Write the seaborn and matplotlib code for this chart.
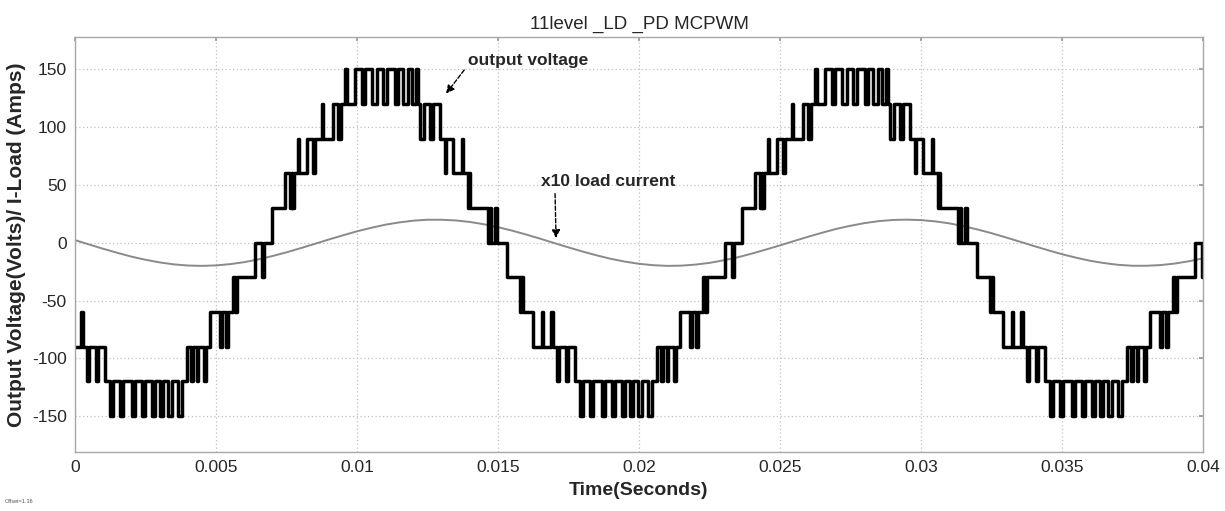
import numpy as np
import pandas as pd
import matplotlib
matplotlib.use("Agg")
import matplotlib.pyplot as plt
import seaborn as sns

# ---- data -------------------------------------------------------------
# One 60 Hz cycle of the 11-level inverter output: switching instants (ms)
# and the voltage level (V) held after each instant.
cycle_ms = 16.667
switch_ms = [
    0.00, 0.21, 0.27, 0.44, 0.49, 0.74, 0.80, 1.06,
    1.24, 1.36, 1.60, 1.71, 2.01, 2.13, 2.37, 2.48, 2.72, 2.84,
    3.01, 3.13, 3.31, 3.43, 3.66, 3.78,
    3.96, 4.11, 4.17, 4.31, 4.36, 4.59, 4.65,
    4.79, 5.14, 5.20, 5.37, 5.43,
    5.60, 5.66, 5.73,
    6.38, 6.65, 6.70,
    6.98,
    7.45, 7.62, 7.68, 7.71, 7.77,
    7.91, 7.96, 8.22, 8.45, 8.51,
    8.75, 8.80, 9.16, 9.34, 9.43,
    9.57, 9.63, 9.93, 10.17, 10.28, 10.52, 10.70, 10.93, 11.05,
    11.35, 11.46, 11.64, 11.82, 11.94, 12.09, 12.15,
    12.23, 12.38, 12.59, 12.70, 12.94,
    13.12, 13.17, 13.41, 13.71, 13.77,
    13.94, 13.99, 14.02,
    14.66, 14.72, 14.75, 14.89, 14.95,
    15.31, 15.78, 15.83, 15.89,
    16.25, 16.55, 16.60,
]
switch_level = [
    -90, -60, -90, -120, -90, -120, -90, -120,
    -150, -120, -150, -120, -150, -120, -150, -120, -150, -120,
    -150, -120, -150, -120, -150, -120,
    -90, -120, -90, -120, -90, -120, -90,
    -60, -90, -60, -90, -60,
    -30, -60, -30,
    0, -30, 0,
    30,
    60, 30, 60, 30, 60,
    90, 60, 90, 60, 90,
    120, 90, 120, 90, 120,
    150, 120, 150, 120, 150, 120, 150, 120, 150,
    120, 150, 120, 150, 120, 150, 120,
    90, 120, 90, 120, 90,
    60, 90, 60, 90, 60,
    30, 60, 30,
    0, 30, 0, 30, 0,
    -30, -60, -30, -60,
    -90, -60, -90,
]
n_cycles = 3
t_end_ms = 40.0

# Load current (scaled x10), sampled every 0.5 ms
current_t_ms = np.arange(0.0, 40.01, 0.5)
current_x10 = [
    2.3, -1.5, -5.2, -8.7, -12.0, -14.7, -17.0, -18.7, -19.7, -20.0,
    -19.6, -18.5, -16.8, -14.4, -11.5, -8.3, -4.7, -1.0, 2.8, 6.4,
    9.9, 12.9, 15.6, 17.6, 19.1, 19.9, 19.9, 19.3, 18.0, 16.0,
    13.5, 10.5, 7.1, 3.5, -0.3, -4.0, -7.6, -10.9, -13.9, -16.3,
    -18.2, -19.4, -20.0, -19.8, -18.9, -17.4, -15.2, -12.6, -9.4, -5.9,
    -2.3, 1.5, 5.2, 8.7, 12.0, 14.7, 17.0, 18.7, 19.7, 20.0,
    19.6, 18.5, 16.8, 14.4, 11.5, 8.3, 4.7, 1.0, -2.8, -6.4,
    -9.9, -12.9, -15.6, -17.6, -19.1, -19.9, -19.9, -19.3, -18.0, -16.0,
    -13.5,
]

x_ticks = [0, 0.005, 0.01, 0.015, 0.02, 0.025, 0.03, 0.035, 0.04]
x_tick_labels = ["0", "0.005", "0.01", "0.015", "0.02", "0.025", "0.03", "0.035", "0.04"]
y_ticks = [-150, -100, -50, 0, 50, 100, 150]
y_tick_labels = ["-150", "-100", "-50", "0", "50", "100", "150"]

# ---- build the stepped voltage trace over the whole window -----------
t_steps, v_steps = [], []
for k in range(n_cycles):
    for t, v in zip(switch_ms, switch_level):
        tk = t + k * cycle_ms
        if tk < t_end_ms:
            t_steps.append(tk)
            v_steps.append(v)
t_steps.append(t_end_ms)
v_steps.append(v_steps[-1])

voltage = pd.DataFrame({"time": np.array(t_steps) / 1000.0, "volts": v_steps})
current = pd.DataFrame({"time": current_t_ms / 1000.0, "amps": current_x10})

# ---- figure -----------------------------------------------------------
sns.set_theme(style="white")
plt.rcParams["font.family"] = ["Liberation Sans", "DejaVu Sans"]

fig = plt.figure(figsize=(12.25, 5.11), dpi=100)
ax = fig.add_axes([0.0612, 0.1155, 0.9208, 0.8121])

sns.lineplot(data=current, x="time", y="amps", color="#8a8a8a", linewidth=1.4,
             estimator=None, sort=False, ax=ax)
sns.lineplot(data=voltage, x="time", y="volts", color="black", linewidth=2.5,
             drawstyle="steps-post", estimator=None, sort=False, ax=ax)

ax.set_xlim(0, 0.04)
ax.set_ylim(-181, 178)
ax.set_xticks(x_ticks)
ax.set_xticklabels(x_tick_labels, fontsize=12.5)
ax.set_yticks(y_ticks)
ax.set_yticklabels(y_tick_labels, fontsize=12.5)
ax.tick_params(axis="both", direction="in", length=3, color="#9a9a9a",
               top=True, right=True, pad=6)

ax.grid(True, color="#c0c0c0", linestyle=(0, (1, 2)), linewidth=0.9)
for s in ax.spines.values():
    s.set_color("#a8a8a8")
    s.set_linewidth(1.0)

ax.set_title("11level _LD _PD MCPWM", fontsize=13.5, pad=6)
ax.set_xlabel("Time(Seconds)", fontsize=14, fontweight="bold", labelpad=5)
ax.set_ylabel("Output Voltage(Volts)/ I-Load (Amps)", fontsize=15,
              fontweight="bold", labelpad=4)

arrow_kw = dict(arrowstyle="-|>", color="black", lw=1.0,
                linestyle=(0, (3, 1.5)), mutation_scale=12, shrinkA=1, shrinkB=0)
ax.annotate("output voltage", xy=(0.01316, 129), xytext=(0.01395, 158),
            fontsize=12.5, fontweight="bold", ha="left", va="center",
            arrowprops=dict(relpos=(0.0, 0.2), **arrow_kw))
ax.annotate("x10 load current", xy=(0.01706, 4), xytext=(0.01652, 53),
            fontsize=12.5, fontweight="bold", ha="left", va="center",
            arrowprops=dict(relpos=(0.105, 0.0), **arrow_kw))

fig.text(0.004, 0.016, "Offset=1.36", fontsize=4, color="#555555")

fig.savefig("out.png", dpi=100)
